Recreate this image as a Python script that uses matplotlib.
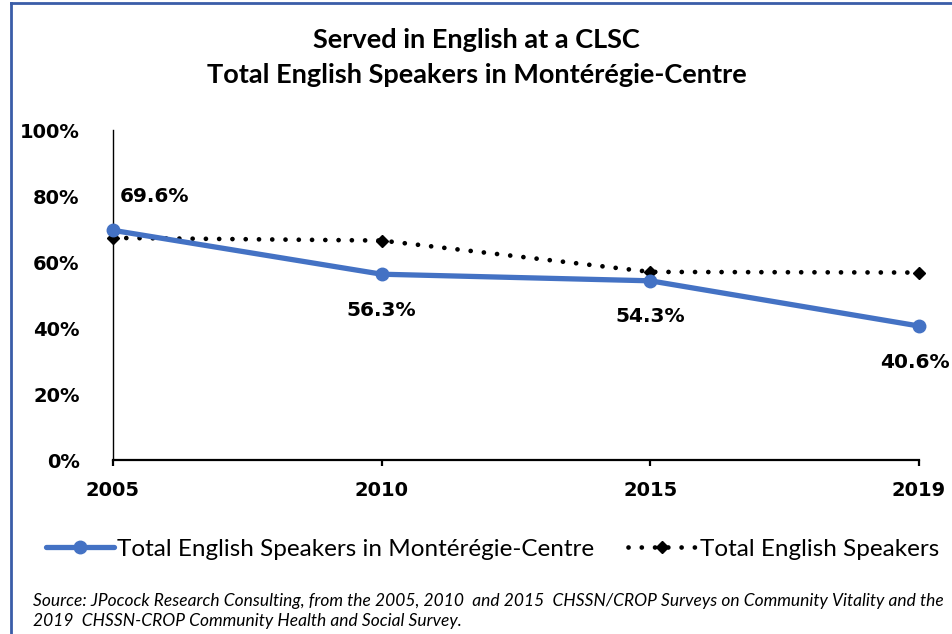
import matplotlib
matplotlib.use("Agg")
import matplotlib.pyplot as plt
from matplotlib.lines import Line2D

years = ["2005", "2010", "2015", "2019"]
monteregie = [69.6, 56.3, 54.3, 40.6]
total_english = [67.3, 66.5, 57.0, 56.8]
y_ticks = [0, 20, 40, 60, 80, 100]
y_tick_labels = ["0%", "20%", "40%", "60%", "80%", "100%"]
title_lines = ["Served in English at a CLSC", "Total English Speakers in Montérégie-Centre"]
series_names = ["Total English Speakers in Montérégie-Centre", "Total English Speakers"]
source_text = ("Source: JPocock Research Consulting, from the 2005, 2010  and 2015  CHSSN/CROP Surveys on Community Vitality and the\n"
               "2019  CHSSN-CROP Community Health and Social Survey.")

W, H = 953, 634
fig = plt.figure(figsize=(W / 100, H / 100), dpi=100)
ax = fig.add_axes([113 / W, 1 - 460 / H, 806 / W, 330 / H])

xs = list(range(len(years)))
blue = "#4472C4"
dotted = (0, (0.01, 2.8))

ax.plot(xs, total_english, color="black", linewidth=3.4, linestyle=dotted,
        dash_capstyle="round", marker="D", markersize=6, markerfacecolor="black",
        markeredgecolor="black", zorder=3, label=series_names[1])
ax.plot(xs, monteregie, color=blue, linewidth=3.8, marker="o", markersize=9,
        solid_capstyle="round", zorder=4, label=series_names[0])

ax.set_xlim(0, len(years) - 1)
ax.set_ylim(0, 100)
ax.set_xticks(xs)
ax.set_xticklabels(years)
ax.set_yticks(y_ticks)
ax.set_yticklabels(y_tick_labels)

for s in ["top", "right"]:
    ax.spines[s].set_visible(False)
ax.spines["bottom"].set_linewidth(1.6)
ax.spines["left"].set_linewidth(1.0)
ax.tick_params(axis="x", direction="out", length=4, width=1.6, pad=11)
ax.tick_params(axis="y", length=0, pad=24)
for lab in ax.get_xticklabels() + ax.get_yticklabels():
    lab.set_fontfamily("DejaVu Sans")
    lab.set_fontweight("bold")
    lab.set_fontsize(14)
for line in ax.lines:
    line.set_clip_on(False)

# data labels
offsets = [(5, 24, "left"), (0, -26, "center"), (0, -26, "center"), (-3, -26, "center")]
for x, v, (dx, dy, ha) in zip(xs, monteregie, offsets):
    ax.annotate(f"{v:.1f}%", (x, v), xytext=(dx, dy), textcoords="offset points",
                ha=ha, va="center", fontsize=14.5, fontweight="bold", family="DejaVu Sans")

# title
fig.text(0.5, 1 - 40 / H, title_lines[0], ha="center", va="center", fontsize=19.5,
         fontweight="bold", family="Lato")
fig.text(0.5, 1 - 75 / H, title_lines[1], ha="center", va="center", fontsize=19.5,
         fontweight="bold", family="Lato")

# legend
handles = [
    Line2D([], [], color=blue, linewidth=3.8, marker="o", markersize=9, solid_capstyle="round"),
    Line2D([], [], color="black", linewidth=3.4, linestyle=dotted, dash_capstyle="round",
           marker="D", markersize=6),
]
fig.legend(handles, series_names, loc="center", bbox_to_anchor=(0.5 + 16 / W, 1 - 549 / H), ncol=2,
           frameon=False, prop={"family": "Lato", "size": 17.5}, handlelength=2.8,
           handletextpad=0.15, columnspacing=1.4)

# source
fig.text(33 / W, 1 - 611 / H, source_text, ha="left", va="center", fontsize=12.5,
         style="italic", family="Lato", linespacing=1.3)

# frame lines (top and left)
frame_color = "#3A5DA8"
fig.add_artist(Line2D([11 / W, 1], [1 - 3 / H, 1 - 3 / H], color=frame_color, linewidth=2,
                      transform=fig.transFigure))
fig.add_artist(Line2D([11 / W, 11 / W], [0, 1 - 3 / H], color=frame_color, linewidth=2,
                      transform=fig.transFigure))

fig.savefig("out.png", dpi=100, facecolor="white")
